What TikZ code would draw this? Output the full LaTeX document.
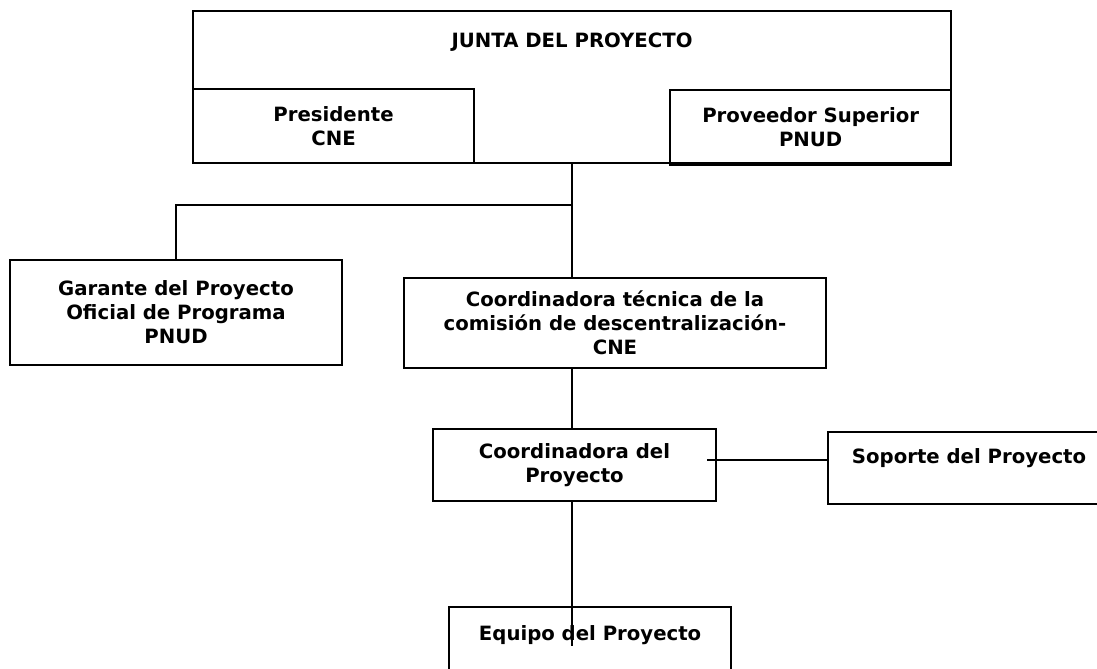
\documentclass[tikz,border=0pt]{standalone}
\usepackage{fontspec}
\setmainfont{DejaVu Sans}
\usetikzlibrary{positioning}

\begin{document}
\begin{tikzpicture}[x=0.025cm, y=-0.025cm,
    caja/.style={draw, line width=1.4pt, align=center, inner sep=0pt,
      font=\bfseries\fontsize{14}{17}\selectfont},
    linea/.style={draw, line width=1pt}]
  \useasboundingbox (0,0) rectangle (1097,669);
  % Define nodes
  \node[caja, anchor=north west, minimum width=18.95cm, minimum height=3.8cm] (junta) at (192,10) {};
  \node[font=\bfseries\fontsize{14}{17}\selectfont] (titulo) at ([yshift=-0.8cm]junta.north) {JUNTA DEL PROYECTO};
  \node[caja, anchor=south west, minimum width=7.025cm, minimum height=1.85cm] (pres) at (junta.south west) {Presidente\\CNE};
  \node[caja, anchor=south east, minimum width=7.025cm, minimum height=1.875cm] (prov) at ([yshift=-0.05cm]junta.south east) {Proveedor Superior\\PNUD};
  \node[caja, minimum width=8.3cm, minimum height=2.625cm] (gar) at (176,312.5) {Garante del Proyecto\\Oficial de Programa\\PNUD};
  \node[caja, minimum width=10.55cm, minimum height=2.25cm] (ct) at (615,323) {Coordinadora técnica de la\\comisión de descentralización-\\CNE};
  \node[caja, below=1.475cm of ct, xshift=-1.0125cm, minimum width=7.075cm, minimum height=1.8cm] (cdp) {Coordinadora del\\Proyecto};
  \node[caja, right=2.75cm of cdp, yshift=-0.075cm, minimum width=7.05cm, minimum height=1.8cm] (sop) {Soporte del Proyecto\\\mbox{}};
  \node[caja, below=2.6cm of cdp, xshift=0.39cm, minimum width=7.05cm, minimum height=1.875cm] (eq) {Equipo del Proyecto\\\mbox{}};
  % Connect nodes
  \coordinate[below=1.025cm of junta.south] (rama);
  \coordinate (enlace) at ([xshift=-0.25cm, yshift=0.125cm]cdp.east);
  \coordinate (fin) at ([yshift=-1cm]eq.north -| rama);
  \draw[linea] (junta.south) -- (junta.south |- ct.north);
  \draw[linea, line width=1.2pt] (rama) -| (gar.north);
  \draw[linea] (ct.south -| rama) -- (cdp.north -| rama);
  \draw[linea, line width=1.4pt] (enlace) -- (enlace -| sop.west);
  \draw[linea, line width=1.6pt] (cdp.south -| rama) -- (fin);
\end{tikzpicture}
\end{document}
